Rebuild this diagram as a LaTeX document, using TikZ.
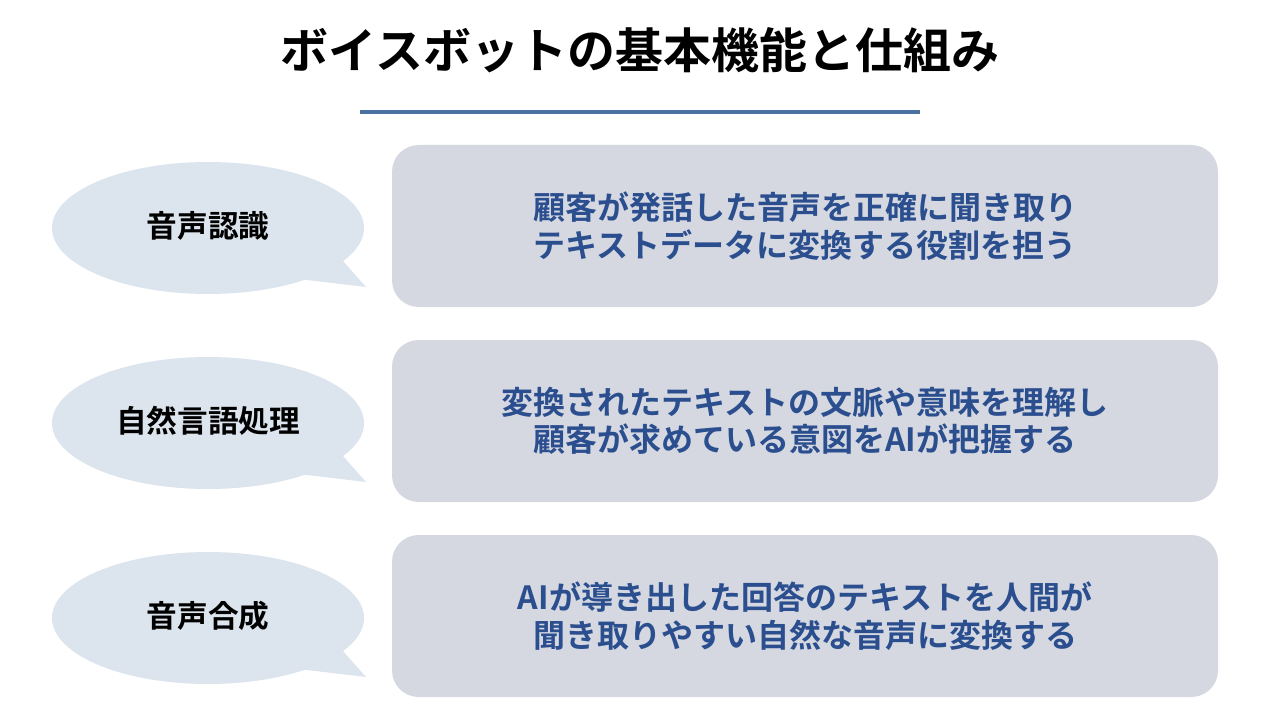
\documentclass[tikz,border=0pt]{standalone}
\usepackage{fontspec}
\setmainfont{Noto Sans CJK JP}[BoldFont=Noto Sans CJK JP Bold]
\definecolor{boxc}{HTML}{D5D8E1}
\definecolor{bubc}{HTML}{DCE4ED}
\definecolor{bluet}{HTML}{2A4E8E}
\definecolor{linec}{HTML}{4A70A0}
\tikzset{
 box/.style={fill=boxc,rounded corners=20,draw=none},
 bub/.style={fill=bubc,draw=none},
 txt/.style={text=bluet,font=\bfseries\fontsize{24}{28}\selectfont,align=center},
 lab/.style={font=\bfseries\fontsize{23}{26}\selectfont}
}
\begin{document}
\begin{tikzpicture}[x=0.75pt,y=-0.75pt]
\useasboundingbox (0,0) rectangle (1280,720);
\node[font=\bfseries\fontsize{36}{40}\selectfont] (title) at (640,50) {ボイスボットの基本機能と仕組み};
\draw[linec,line width=3.5pt] (360,112) -- (920,112);
\foreach \i/\y/\lab/\t in {1/0/音声認識/{顧客が発話した音声を正確に聞き取り\\テキストデータに変換する役割を担う},
 2/195/自然言語処理/{変換されたテキストの文脈や意味を理解し\\顧客が求めている意図をAIが把握する},
 3/390/音声合成/{AIが導き出した回答のテキストを人間が\\聞き取りやすい自然な音声に変換する}}{
 \fill[box] (392,145+\y) rectangle (1218,307+\y);
 \node[txt] (t\i) at (805,226+\y) {\t};
 \fill[bub] (208,228+\y) ellipse [x radius=156,y radius=66];
 \fill[bub] (335,252+\y) -- (366,287+\y) -- (290,278+\y) -- cycle;
 \node[lab] (l\i) at (208,226+\y) {\lab};
}
\end{tikzpicture}
\end{document}
